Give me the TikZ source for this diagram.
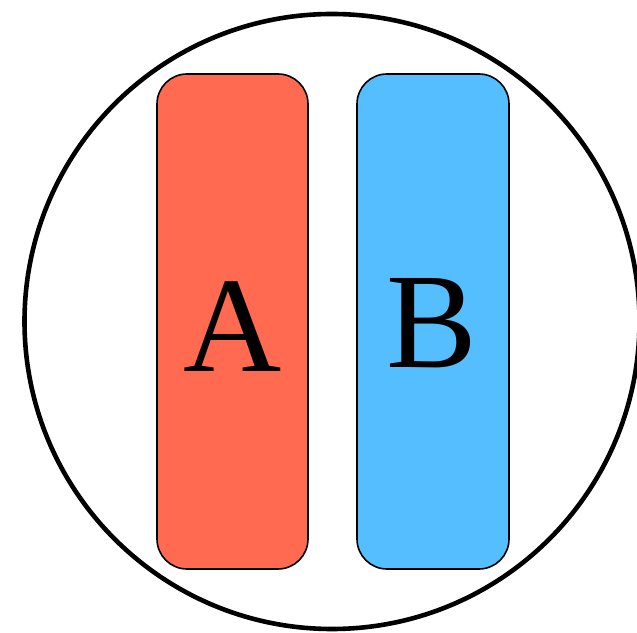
\documentclass[tikz,border=0pt]{standalone}
\usepackage{fontspec}
\setmainfont{Liberation Serif}
\definecolor{redfill}{RGB}{255,106,80}
\definecolor{bluefill}{RGB}{85,190,255}
\begin{document}
\begin{tikzpicture}[x=1pt,y=1pt,
  bar/.style={draw=black,line width=1.6pt,rounded corners=30pt},
  letter/.style={anchor=base,inner sep=0pt,font=\fontsize{136}{136}\selectfont}]
\useasboundingbox (0,0) rectangle (637,632);
\node[draw=black,line width=4.6pt,circle,minimum size=615pt,inner sep=0pt] (ring) at (332,310.5) {};
\draw[bar,fill=redfill] (157,63) rectangle (308,558);
\draw[bar,fill=bluefill] (357,63) rectangle (509,558);
\node[letter] (A) at (232.5,260) {A};
\node[letter] (B) at (432,264) {B};
\end{tikzpicture}
\end{document}
